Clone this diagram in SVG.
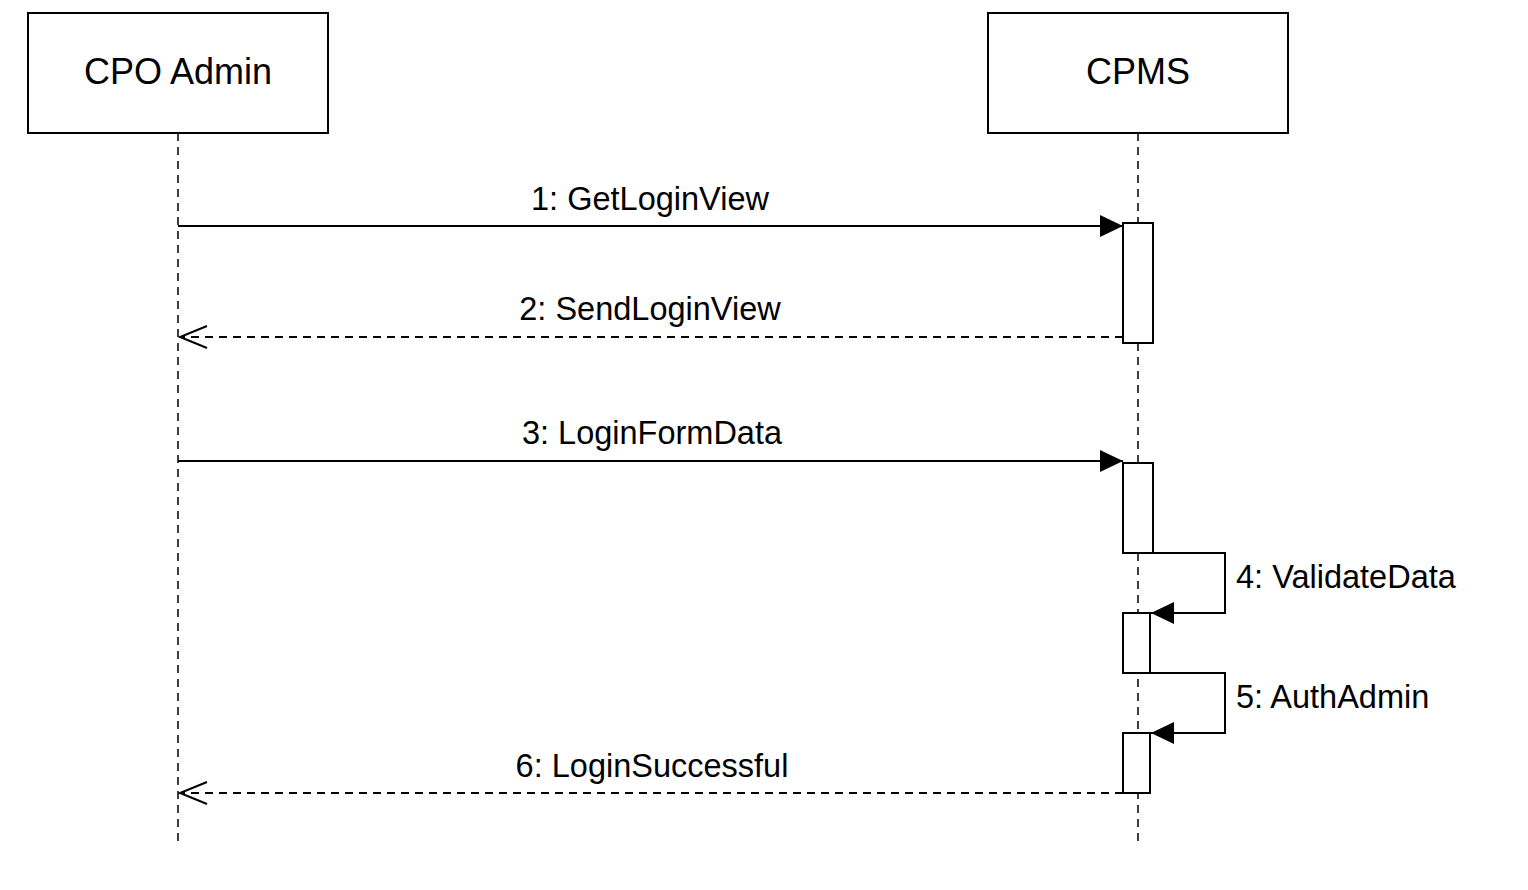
<svg xmlns="http://www.w3.org/2000/svg" width="1528" height="890" viewBox="0 0 1528 890">
<style>
.box{fill:#fff;stroke:#000;stroke-width:2}
.life{stroke:#000;stroke-width:1.5;stroke-dasharray:8,6;fill:none}
.msg{stroke:#000;stroke-width:2;fill:none}
.ret{stroke:#000;stroke-width:2;fill:none;stroke-dasharray:8,6}
.act{fill:#fff;stroke:#000;stroke-width:2}
.hd{font-family:"Liberation Sans",Arial,sans-serif;font-size:36px;fill:#000;text-anchor:middle}
.lb{font-family:"Liberation Sans",Arial,sans-serif;font-size:32.5px;fill:#000}
</style>
<defs>
<marker id="fill" markerWidth="24" markerHeight="22" refX="23" refY="11" orient="auto" markerUnits="userSpaceOnUse">
<path d="M0,0 L23,11 L0,22 Z" fill="#000"/>
</marker>
<marker id="open" markerWidth="30" markerHeight="26" refX="28" refY="12" orient="auto" markerUnits="userSpaceOnUse">
<path d="M1,1 L28,12 L1,23" fill="none" stroke="#000" stroke-width="2"/>
</marker>
</defs>
<rect width="1528" height="890" fill="#fff"/>
<g id="lifelines">
<line class="life" x1="178" y1="133" x2="178" y2="845"/>
<line class="life" x1="1138" y1="133" x2="1138" y2="845"/>
</g>
<g id="cpo-admin">
<rect class="box" x="28" y="13" width="300" height="120"/>
<text class="hd" x="178" y="84">CPO Admin</text>
</g>
<g id="cpms">
<rect class="box" x="988" y="13" width="300" height="120"/>
<text class="hd" x="1138" y="84">CPMS</text>
</g>
<g id="activations">
<rect class="act" x="1123" y="223" width="30" height="120"/>
<rect class="act" x="1123" y="463" width="30" height="90"/>
<rect class="act" x="1123" y="613" width="27" height="60"/>
<rect class="act" x="1123" y="733" width="27" height="60"/>
</g>
<g id="connectors">
<line class="msg" x1="178" y1="226" x2="1123" y2="226" marker-end="url(#fill)"/>
<line class="ret" x1="1123" y1="337" x2="180" y2="337" marker-end="url(#open)"/>
<line class="msg" x1="178" y1="461" x2="1123" y2="461" marker-end="url(#fill)"/>
<polyline class="msg" points="1153,553 1225,553 1225,613 1151,613" marker-end="url(#fill)"/>
<polyline class="msg" points="1150,673 1225,673 1225,733 1151,733" marker-end="url(#fill)"/>
<line class="ret" x1="1123" y1="793" x2="180" y2="793" marker-end="url(#open)"/>
</g>
<g id="labels">
<text class="lb" x="650" y="210" text-anchor="middle">1: GetLoginView</text>
<text class="lb" x="650" y="320" text-anchor="middle">2: SendLoginView</text>
<text class="lb" x="652" y="444" text-anchor="middle">3: LoginFormData</text>
<text class="lb" x="1236" y="588">4: ValidateData</text>
<text class="lb" x="1236" y="708">5: AuthAdmin</text>
<text class="lb" x="652" y="777" text-anchor="middle">6: LoginSuccessful</text>
</g>
</svg>
